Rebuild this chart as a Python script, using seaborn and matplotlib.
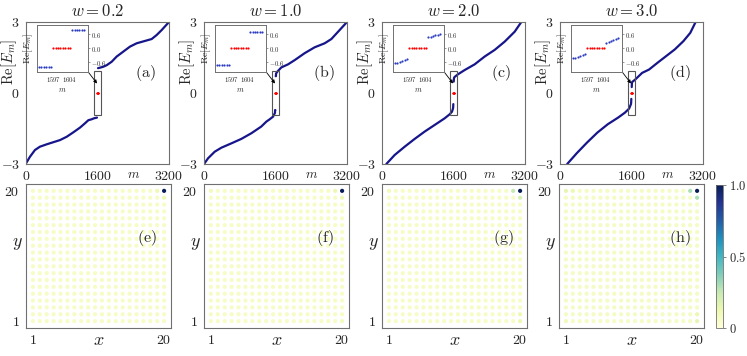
import numpy as np
import pandas as pd
import matplotlib
matplotlib.use("Agg")
import matplotlib.pyplot as plt
import matplotlib.transforms as mtrans
from matplotlib.patches import Rectangle
import seaborn as sns

# ---------------- data ----------------
w_values = ["0.2", "1.0", "2.0", "3.0"]
top_tags = ["(a)", "(b)", "(c)", "(d)"]
bot_tags = ["(e)", "(f)", "(g)", "(h)"]

# edge-state indices (inset region) and zero modes
edge_low_m = [1591, 1592, 1593, 1594, 1595, 1596]
zero_m = [1597, 1598, 1599, 1600, 1601, 1602, 1603, 1604]
edge_up_m = [1605, 1606, 1607, 1608, 1609, 1610]

# w = 0.2
a_low_m = [1, 90, 200, 310, 460, 610, 760, 910, 1060, 1210, 1320, 1395, 1470, 1520, 1588]
a_low_E = [-2.97, -2.69, -2.41, -2.27, -2.17, -2.08, -1.99, -1.85, -1.66, -1.46, -1.28, -1.15, -1.11, -1.07, -1.04]
a_up_m = [1612, 1656, 1730, 1810, 1917, 2029, 2178, 2327, 2476, 2663, 2812, 2924, 3036, 3200]
a_up_E = [1.05, 1.07, 1.11, 1.18, 1.32, 1.54, 1.75, 1.96, 2.10, 2.20, 2.28, 2.45, 2.66, 3.00]
a_edge_low = [-0.79, -0.79, -0.79, -0.79, -0.79, -0.79]
a_edge_up = [0.78, 0.78, 0.78, 0.78, 0.78, 0.78]

# w = 1.0
b_low_m = [1, 90, 240, 390, 610, 835, 1060, 1280, 1395, 1470, 1545, 1588]
b_low_E = [-3.00, -2.76, -2.48, -2.31, -2.13, -1.94, -1.70, -1.42, -1.21, -1.11, -1.00, -0.84]
b_up_m = [1612, 1640, 1730, 1880, 2030, 2250, 2475, 2700, 2850, 3035, 3200]
b_up_E = [0.82, 0.90, 1.08, 1.21, 1.39, 1.68, 1.93, 2.10, 2.28, 2.66, 3.00]
b_edge_low = [-0.72, -0.72, -0.72, -0.72, -0.72, -0.72]
b_edge_up = [0.71, 0.71, 0.71, 0.71, 0.71, 0.71]

# w = 2.0
c_low_m = [97, 283, 507, 731, 955, 1179, 1402, 1514, 1566, 1588]
c_low_E = [-3.00, -2.62, -2.27, -1.94, -1.63, -1.35, -1.07, -0.90, -0.79, -0.66]
c_up_m = [1612, 1626, 1700, 1850, 2073, 2297, 2521, 2745, 2969, 3118]
c_up_E = [0.64, 0.68, 0.79, 0.97, 1.21, 1.54, 1.82, 2.17, 2.59, 3.00]
c_edge_low = [-0.62, -0.61, -0.59, -0.55, -0.50, -0.47]
c_edge_up = [0.48, 0.50, 0.53, 0.56, 0.58, 0.60]

# w = 3.0
d_low_m = [161, 377, 607, 838, 1069, 1300, 1453, 1546, 1588]
d_low_E = [-3.00, -2.54, -2.09, -1.67, -1.32, -1.04, -0.83, -0.66, -0.47]
d_up_m = [1612, 1684, 1838, 1992, 2184, 2376, 2568, 2761, 2915, 3035]
d_up_E = [0.46, 0.57, 0.85, 0.99, 1.28, 1.56, 1.84, 2.19, 2.54, 3.00]
d_edge_low = [-0.43, -0.40, -0.36, -0.32, -0.28, -0.25]
d_edge_up = [0.25, 0.28, 0.32, 0.36, 0.40, 0.43]

spectra = [
    (a_low_m, a_low_E, a_up_m, a_up_E, a_edge_low, a_edge_up),
    (b_low_m, b_low_E, b_up_m, b_up_E, b_edge_low, b_edge_up),
    (c_low_m, c_low_E, c_up_m, c_up_E, c_edge_low, c_edge_up),
    (d_low_m, d_low_E, d_up_m, d_up_E, d_edge_low, d_edge_up),
]
# whether edge states are visibly separated from the bulk band (gap)
edge_gap = [True, False, False, False]

# spatial distribution on 20x20 lattice (normalised)
lattice = list(range(1, 21))
background = [0.06, 0.06, 0.06, 0.07]
peaks = [
    {(20, 20): 1.0, (20, 19): 0.12, (19, 20): 0.11},
    {(20, 20): 1.0, (20, 19): 0.12, (19, 20): 0.12, (1, 20): 0.09, (20, 1): 0.09},
    {(20, 20): 1.0, (19, 20): 0.25, (20, 19): 0.21, (20, 1): 0.13, (20, 2): 0.12, (1, 20): 0.10},
    {(20, 20): 1.0, (19, 20): 0.30, (20, 19): 0.30, (1, 20): 0.15, (2, 20): 0.13,
     (20, 1): 0.15, (20, 2): 0.13, (1, 1): 0.10},
]

# ---------------- style ----------------
sns.set_style("white")
plt.rcParams.update({
    "mathtext.fontset": "cm",
    "font.family": ["serif"],
    "font.serif": ["cmr10", "DejaVu Serif"],
    "axes.unicode_minus": False,
})

W, H = 747, 356
fig = plt.figure(figsize=(W / 100, H / 100), dpi=100)


def box(l, t, w, h):
    return [l / W, 1 - (t + h) / H, w / W, h / H]


navy = "#16168a"
dotblue = "#2c3cc0"
spine_c = "#707070"


def style_axes(ax, lw=0.8, tl=3):
    for s in ax.spines.values():
        s.set_color(spine_c)
        s.set_linewidth(lw)
    ax.tick_params(direction="out", length=tl, width=lw, color=spine_c, pad=1.5)


top_lefts = [26, 204, 382, 560]
bot_lefts = [26, 204, 382, 559]

for i in range(4):
    low_m, low_E, up_m, up_E, e_low, e_up = spectra[i]
    ax = fig.add_axes(box(top_lefts[i], 22, 143, 142))
    segs = [0, 1, 2, 3] if edge_gap[i] else [0, 0, 2, 2]
    rows = []
    for m, e in zip(low_m, low_E):
        rows.append((m, e, segs[0]))
    for m, e in zip(edge_low_m, e_low):
        rows.append((m, e, segs[1]))
    for m, e in zip(edge_up_m, e_up):
        rows.append((m, e, segs[2]))
    for m, e in zip(up_m, up_E):
        rows.append((m, e, segs[3]))
    df = pd.DataFrame(rows, columns=["m", "E", "seg"])
    sns.lineplot(data=df, x="m", y="E", units="seg", estimator=None, sort=False,
                 color=navy, lw=1.6, ax=ax, legend=False)
    sns.scatterplot(x=zero_m, y=[0.0] * len(zero_m), color="red", s=2, linewidth=0,
                    ax=ax, zorder=5, legend=False)
    ax.set_xlim(0, 3200)
    ax.set_ylim(-3, 3)
    ax.set_xticks([0, 1600, 3200])
    ax.set_xticklabels(["$0$", "$1600$", "$3200$"], fontsize=10)
    ax.set_yticks([-3, 0, 3])
    ax.set_yticklabels(["$-3$", "$0$", "$3$"], fontsize=10)
    ax.set_xlabel("")
    ax.set_ylabel("")
    style_axes(ax)
    ax.set_title(r"$w = %s$" % w_values[i], fontsize=12, pad=4)
    tr = mtrans.blended_transform_factory(ax.transData, ax.transAxes)
    ax.text(2400, -0.075, r"$m$", transform=tr, fontsize=9.5, ha="center", va="center")
    ax.text(-0.115, 0.72, r"$\mathrm{Re}[E_m]$", transform=ax.transAxes, rotation=90,
            fontsize=10.5, ha="center", va="center")
    ax.text(0.835, 0.64, r"$\mathrm{%s}$" % top_tags[i], transform=ax.transAxes,
            fontsize=11.5, ha="center", va="center")
    # rectangle highlighting zero-mode region
    ax.add_patch(Rectangle((1530, -0.93), 150, 1.86, fill=False, ec="#555555", lw=0.8, zorder=6))
    # arrow from inset corner
    ax.annotate("", xy=(1590, 0.40), xycoords="data", xytext=(0.432, 0.652),
                textcoords="axes fraction",
                arrowprops=dict(arrowstyle="-|>", color="black", lw=0.6,
                                mutation_scale=5, shrinkA=0, shrinkB=0), zorder=7)

    # inset
    axi = fig.add_axes(box(top_lefts[i] + 10.7, 25, 51, 46.7))
    sns.scatterplot(x=edge_low_m + edge_up_m, y=list(e_low) + list(e_up), color=dotblue,
                    s=2.5, linewidth=0, ax=axi, legend=False)
    sns.scatterplot(x=zero_m, y=[0.0] * len(zero_m), color="red", s=2.5, linewidth=0,
                    ax=axi, legend=False)
    axi.set_xlim(1590, 1611.5)
    axi.set_ylim(-1, 1)
    axi.set_xticks([1597, 1604])
    axi.set_xticklabels(["$1597$", "$1604$"], fontsize=4.8)
    axi.yaxis.tick_right()
    axi.set_yticks([-0.6, 0.0, 0.6])
    axi.set_yticklabels(["$-0.6$", "$0.0$", "$0.6$"], fontsize=4.8)
    axi.set_xlabel(r"$m$", fontsize=5.5, labelpad=1)
    axi.set_ylabel(r"$\mathrm{Re}[E_m]$", fontsize=7, labelpad=1)
    axi.yaxis.set_label_position("left")
    for s in axi.spines.values():
        s.set_color(spine_c)
        s.set_linewidth(0.7)
    axi.tick_params(direction="out", length=1.5, width=0.5, color=spine_c, pad=1)

for i in range(4):
    ax = fig.add_axes(box(bot_lefts[i], 184, 145, 144))
    rows = []
    for yy in lattice:
        for xx in lattice:
            rows.append((xx, yy, peaks[i].get((xx, yy), background[i])))
    df = pd.DataFrame(rows, columns=["x", "y", "v"])
    sns.scatterplot(data=df, x="x", y="y", hue="v", palette="YlGnBu", hue_norm=(0, 1),
                    s=9, linewidth=0, ax=ax, legend=False)
    ax.set_xlim(0, 21)
    ax.set_ylim(0, 21)
    ax.set_xticks([1, 20])
    ax.set_xticklabels(["$1$", "$20$"], fontsize=10)
    ax.set_yticks([1, 20])
    ax.set_yticklabels(["$1$", "$20$"], fontsize=10)
    ax.set_xlabel("")
    ax.set_ylabel("")
    style_axes(ax)
    tr = mtrans.blended_transform_factory(ax.transData, ax.transAxes)
    ax.text(10.5, -0.088, r"$x$", transform=tr, fontsize=13, ha="center", va="center")
    ax.text(-0.058, 0.58, r"$y$", transform=ax.transAxes, fontsize=13, ha="center", va="center")
    ax.text(0.835, 0.625, r"$\mathrm{%s}$" % bot_tags[i], transform=ax.transAxes,
            fontsize=11.5, ha="center", va="center")

cax = fig.add_axes(box(716, 185, 7, 143))
sm = plt.cm.ScalarMappable(cmap="YlGnBu", norm=plt.Normalize(0, 1))
cb = fig.colorbar(sm, cax=cax, ticks=[0, 0.5, 1.0])
cb.ax.set_yticklabels(["$0$", "$0.5$", "$1.0$"], fontsize=9)
cb.outline.set_edgecolor(spine_c)
cb.outline.set_linewidth(0.6)
cb.ax.tick_params(length=2.5, width=0.6, color=spine_c, pad=1.5)

fig.savefig("out.png", dpi=100)
